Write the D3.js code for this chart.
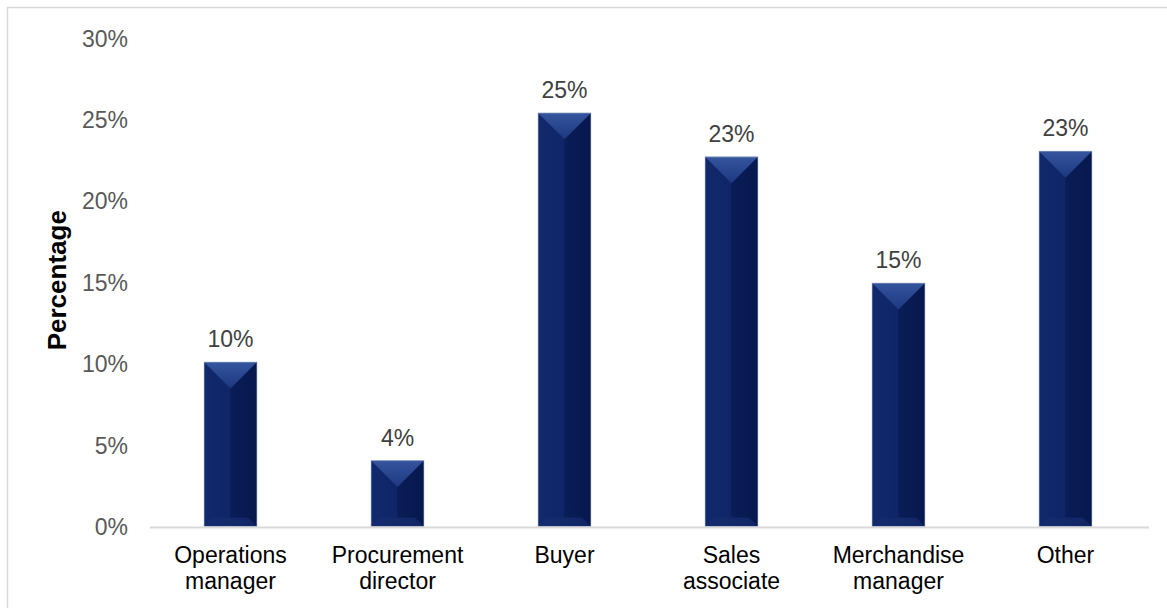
<!DOCTYPE html>
<html>
<head>
<meta charset="utf-8">
<script src="https://cdn.jsdelivr.net/npm/d3@7"></script>
<style>
  html, body { margin: 0; padding: 0; background: #fff; }
  svg { display: block; font-family: "Liberation Sans", Arial, sans-serif; }
</style>
</head>
<body>
<svg id="chart" width="1167" height="608"></svg>
<script>
// Job roles and their share of respondents (%)
const categories = [
  ["Operations", "manager"],
  ["Procurement", "director"],
  ["Buyer"],
  ["Sales", "associate"],
  ["Merchandise", "manager"],
  ["Other"]
];
const values = [10.1, 4.05, 25.4, 22.7, 14.95, 23.05];
const yTicks = [0, 5, 10, 15, 20, 25, 30];
const yTitle = "Percentage";

const svg = d3.select("#chart");
const W = 1167, H = 608;
const margin = { left: 147, right: 18, top: 38, bottom: 81.5 };

// outer frame
svg.append("rect")
  .attr("x", 7.5).attr("y", 7.5)
  .attr("width", W + 10).attr("height", H + 10)
  .attr("fill", "none").attr("stroke", "#d9d9d9").attr("stroke-width", 1.5);

const keys = categories.map(c => c.join(" "));
const x = d3.scaleBand()
  .domain(keys)
  .range([margin.left, 1149])
  .paddingInner(0.683).paddingOuter(0.3415);

const y = d3.scaleLinear().domain([0, 30]).range([H - margin.bottom, margin.top]);

// y axis tick labels (no line, no ticks)
const yAxis = d3.axisLeft(y).tickValues(yTicks).tickFormat(d => d + "%").tickSize(0).tickPadding(0);
const gy = svg.append("g").attr("transform", `translate(128,0)`).call(yAxis);
gy.select(".domain").remove();
gy.selectAll("text")
  .attr("font-size", 23).attr("fill", "#595959")
  .attr("font-family", "'Liberation Sans', Arial, sans-serif")
  .attr("dy", "0.35em");

// y title
svg.append("text")
  .attr("transform", `translate(66,${y(15) - 2}) rotate(-90)`)
  .attr("text-anchor", "middle")
  .attr("font-size", 26).attr("font-weight", "bold").attr("fill", "#000")
  .text(yTitle);

// bars with a bevelled look
const bars = svg.append("g");
const data = keys.map((k, i) => ({ key: k, lines: categories[i], v: values[i] }));

const defs = svg.append("defs");
const gTop = defs.append("linearGradient").attr("id", "gTop").attr("x1", 0).attr("y1", 0).attr("x2", 0).attr("y2", 1);
gTop.append("stop").attr("offset", 0).attr("stop-color", "#35559e");
gTop.append("stop").attr("offset", 1).attr("stop-color", "#1c3880");
const gFace = defs.append("linearGradient").attr("id", "gFace").attr("x1", 0).attr("y1", 0).attr("x2", 1).attr("y2", 0);
gFace.append("stop").attr("offset", 0).attr("stop-color", "#112766");
gFace.append("stop").attr("offset", 0.5).attr("stop-color", "#0d2260");
gFace.append("stop").attr("offset", 1).attr("stop-color", "#091b54");

data.forEach(d => {
  const x0 = x(d.key), w = x.bandwidth();
  const yt = y(d.v), yb = y(0);
  const h = yb - yt;
  const b = Math.min(w / 2, h / 2);
  const bb = Math.min(9, h / 4);
  const g = bars.append("g");
  // main face
  g.append("rect").attr("x", x0).attr("y", yt).attr("width", w).attr("height", h).attr("fill", "url(#gFace)");
  // left side
  g.append("polygon").attr("points", [[x0, yt], [x0 + w / 2, yt + b], [x0 + w / 2, yb - bb], [x0 + bb, yb - bb], [x0, yb]].join(" "))
    .attr("fill", "#15307a").attr("opacity", 0.3);
  // right side
  g.append("polygon").attr("points", [[x0 + w, yt], [x0 + w / 2, yt + b], [x0 + w / 2, yb - bb], [x0 + w - bb, yb - bb], [x0 + w, yb]].join(" "))
    .attr("fill", "#061544").attr("opacity", 0.35);
  // bottom bevel
  g.append("polygon").attr("points", [[x0, yb], [x0 + bb, yb - bb], [x0 + w - bb, yb - bb], [x0 + w, yb]].join(" "))
    .attr("fill", "#1a3378").attr("opacity", 0.45);
  // top bevel
  g.append("polygon").attr("points", [[x0, yt], [x0 + w, yt], [x0 + w / 2, yt + b]].join(" "))
    .attr("fill", "url(#gTop)");
  // thin outline
  g.append("rect").attr("x", x0).attr("y", yt).attr("width", w).attr("height", h)
    .attr("fill", "none").attr("stroke", "#b9c3d6").attr("stroke-width", 1).attr("opacity", 0.6);

  // value label
  svg.append("text")
    .attr("x", x0 + w / 2).attr("y", yt - 15)
    .attr("text-anchor", "middle").attr("font-size", 23).attr("fill", "#404040")
    .text(d3.format(".0f")(d.v) + "%");
});

// baseline
svg.append("line")
  .attr("x1", 150).attr("x2", 1149)
  .attr("y1", y(0) + 1).attr("y2", y(0) + 1)
  .attr("stroke", "#d9d9d9").attr("stroke-width", 2);

// category labels
data.forEach(d => {
  const cx = x(d.key) + x.bandwidth() / 2;
  const t = svg.append("text")
    .attr("x", cx).attr("y", 563)
    .attr("text-anchor", "middle").attr("font-size", 23).attr("fill", "#000");
  d.lines.forEach((ln, j) => {
    t.append("tspan").attr("x", cx).attr("dy", j === 0 ? 0 : 26).text(ln);
  });
});
</script>
</body>
</html>
